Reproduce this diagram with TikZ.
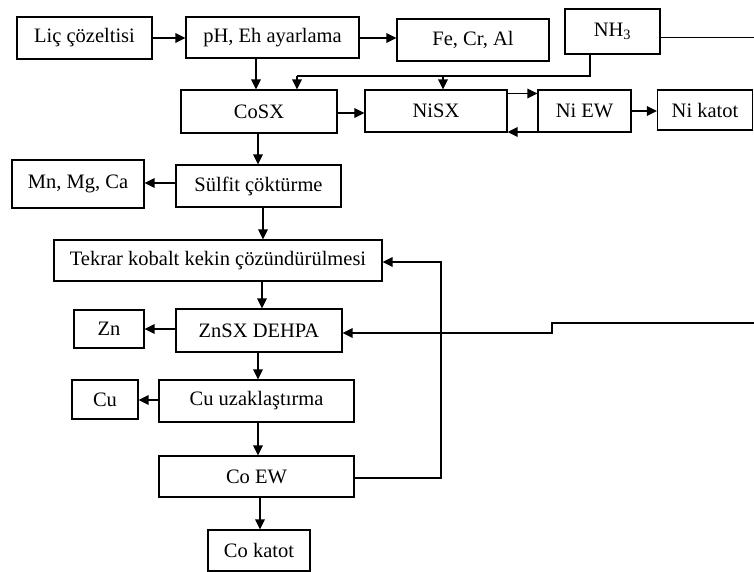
\documentclass[tikz,border=0pt]{standalone}
\usepackage{fontspec}
\setmainfont{Liberation Serif}
\usetikzlibrary{arrows.meta}
\begin{document}
\begin{tikzpicture}[x=1pt,y=-1pt,
  box/.style={draw, line width=1.3pt, inner sep=0pt, align=center,
    font=\fontsize{20.5}{24}\selectfont},
  link/.style={line width=1.5pt},
  arr/.style={line width=1.5pt, -{Triangle[length=10pt,width=9.5pt]}}]
\useasboundingbox (0,0) rectangle (754,572);

% process boxes
\node[box, minimum width=135, minimum height=42] (lic) at (84.5,38) {Liç çözeltisi};
\node[box, minimum width=173, minimum height=41] (ph) at (272.5,37.5) {pH, Eh ayarlama};
\node[box, minimum width=152, minimum height=42] (fe) at (473,40) {Fe, Cr, Al};
\node[box, minimum width=95, minimum height=45] (nh3) at (612.5,31.5) {NH\textsubscript{3}};
\node[box, minimum width=156, minimum height=43] (cosx) at (259,111.5) {CoSX};
\node[box, minimum width=142, minimum height=42] (nisx) at (436,111) {NiSX};
\node[box, minimum width=93, minimum height=42] (niew) at (584.5,111) {Ni EW};
\node[box, minimum width=95, minimum height=40] (nik) at (705,110) {Ni katot};
\node[box, minimum width=132, minimum height=48] (mn) at (78,184) {Mn, Mg, Ca};
\node[box, minimum width=165, minimum height=42] (sulf) at (258.5,186) {Sülfit çöktürme};
\node[box, minimum width=328, minimum height=41] (tek) at (218,260.5) {Tekrar kobalt kekin çözündürülmesi};
\node[box, minimum width=70, minimum height=38] (zn) at (109,329) {Zn};
\node[box, minimum width=166, minimum height=43] (znsx) at (259,330.5) {ZnSX DEHPA};
\node[box, minimum width=66, minimum height=39] (cu) at (105,399.5) {Cu};
\node[box, minimum width=195, minimum height=42] (cuuz) at (256.5,401) {Cu uzaklaştırma};
\node[box, minimum width=195, minimum height=41] (coew) at (256.5,476.5) {Co EW};
\node[box, minimum width=102, minimum height=41] (cok) at (259,550.5) {Co katot};

% junctions and free ends
\coordinate (nhL) at (297,76);
\coordinate (nhM) at (443,76);
\coordinate (nhR) at (590,76);
\coordinate (edgeA) at (754,37.5);
\coordinate (edgeB) at (754,323);
\coordinate (stepB) at (552,323);
\coordinate (ret) at (441,262);

% main flow
\draw[arr] (lic.east |- 0,38) -- (ph.west |- 0,38);
\draw[arr] (ph.east |- 0,38) -- (fe.west |- 0,38);
\draw[arr] (ph.south -| 256,0) -- (cosx.north -| 256,0);
\draw[link] (nh3.south -| nhR) |- (nhL);
\draw[arr] (nhL) -- (cosx.north -| nhL);
\draw[arr] (nhM) -- (nisx.north -| nhM);
\draw[link] (nh3.east |- edgeA) -- (edgeA);
\draw[arr] (cosx.east |- 0,113) -- (nisx.west |- 0,113);
\draw[arr] (nisx.east |- 0,93.5) -- (niew.west |- 0,93.5);
\draw[arr] (niew.west |- 0,132) -- (nisx.east |- 0,132);
\draw[arr] (niew.east |- 0,111) -- (nik.west |- 0,111);
\draw[arr] (cosx.south -| 258,0) -- (sulf.north -| 258,0);
\draw[arr] (sulf.west |- 0,183) -- (mn.east |- 0,183);
\draw[arr] (sulf.south -| 263,0) -- (tek.north -| 263,0);
\draw[arr] (tek.south -| 262,0) -- (znsx.north -| 262,0);
\draw[arr] (znsx.west |- 0,329) -- (zn.east |- 0,329);
\draw[arr] (znsx.south -| 258,0) -- (cuuz.north -| 258,0);
\draw[arr] (cuuz.west |- 0,400) -- (cu.east |- 0,400);
\draw[arr] (cuuz.south -| 258,0) -- (coew.north -| 258,0);
\draw[arr] (coew.south -| 260,0) -- (cok.north -| 260,0);

% return lines
\draw[arr] (coew.east |- 0,478) -| (ret) -- (tek.east |- ret);
\draw[arr] (edgeB) -- (stepB) -- (552,333) -- (znsx.east |- 0,333);
\end{tikzpicture}
\end{document}
